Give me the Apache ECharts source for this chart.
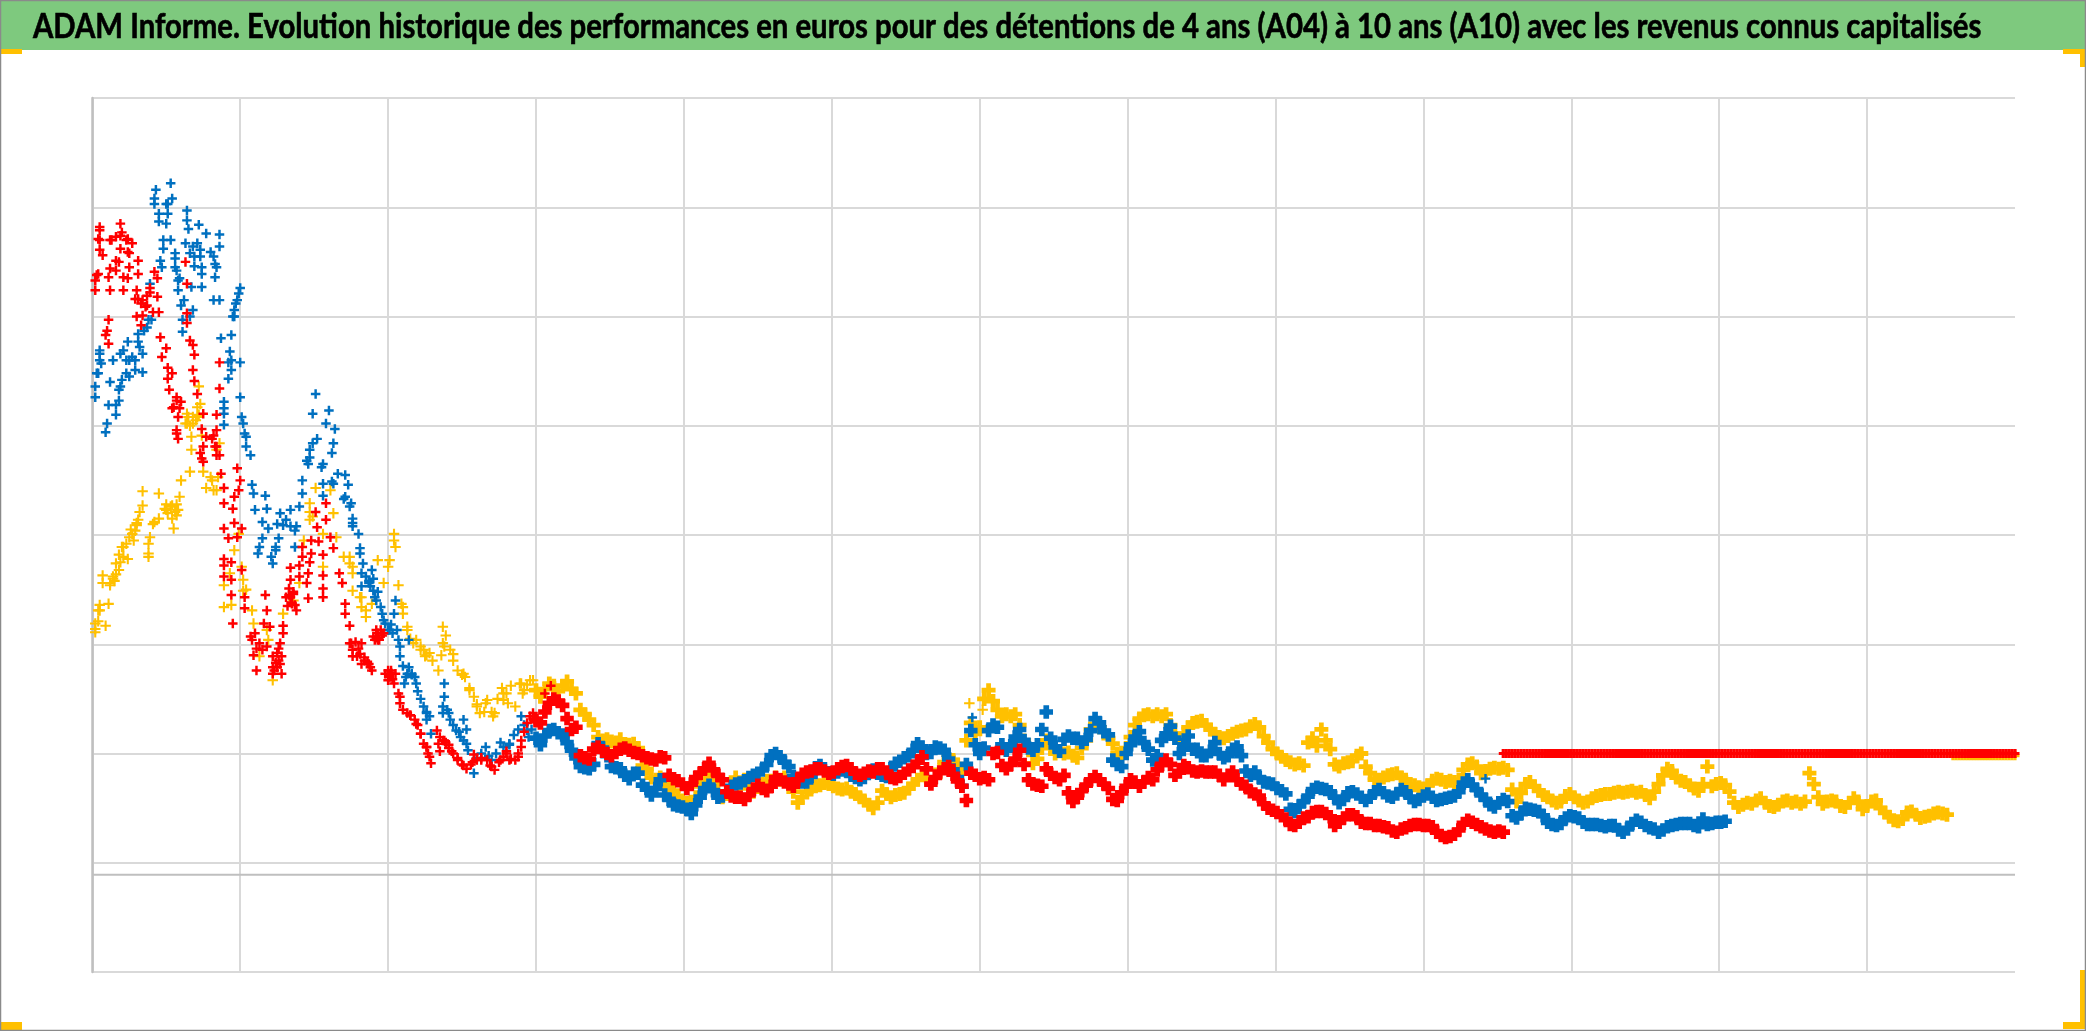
<!DOCTYPE html>
<html><head><meta charset="utf-8">
<style>html,body{margin:0;padding:0;background:#fff}#c{width:2086px;height:1031px}</style>
<script src="https://cdn.jsdelivr.net/npm/echarts@6/dist/echarts.min.js"></script>
</head><body><div id="c"></div>
<script>
const titleText = "ADAM Informe. Evolution historique des performances en euros pour des détentions de 4 ans (A04) à 10 ans (A10) avec les revenus connus capitalisés";

// Early, scattered years: [year, value]
const yellowEarly = [[.02,311],[.02,319],[.04,321],[.05,336],[.05,331],[.11,337],[.09,317],[.07,356],[.07,363],[.12,354],[.14,360],[.18,368],[.19,375],[.18,382],[.24,378],[.2,389],[.23,392],[.27,401],[.29,404],[.31,414],[.32,421],[.34,427],[.34,440],[.38,383],[.38,392],[.39,398],[.42,412],[.45,415],[.45,438],[.49,424],[.53,426],[.56,421],[.55,406],[.58,423],[.59,435],[.6,450],[.66,458],[.75,458],[.77,443],[.81,450],[.84,441],[.85,453],
[.64,511],[.64,502],[.68,508],[.71,517],[.73,520],[.72,536],[.67,490],[.67,478],[.86,484],[.84,478],[.74,491],[.72,510],[.7,505],[.66,500],[.26,405],[.28,395],[.3,409],[.16,364],[.15,358],[.21,380],[.5,428],[.51,420],[.54,415],[.57,428],
[.89,334],[.89,354],[.93,365],[.94,336],[.96,386],[.99,401],[1.01,371],[1.02,359],[1.04,350],[1.08,331],[1.09,319],[1.13,289],[1.18,313],[1.19,304],[1.22,267],[1.29,328],[1.36,340],[1.4,356],[1.43,395],[1.47,429],[1.47,414],[1.51,443],[1.56,401],[1.56,371],[1.61,441],[1.63,420],[1.65,398],[1.7,380],[1.74,374],[1.76,365],[1.76,349],[1.81,343],[1.82,334],[1.85,325],[1.89,337],[1.93,377],[1.97,356],[2.0,371],[2.04,401],[2.05,389],[2.07,354],[2.09,337],[2.1,328],[2.13,313],[2.19,304],[2.24,295],[2.28,292],[2.34,276],[2.37,316],[2.37,301],[2.42,295],[2.47,276],[2.52,270],[2.58,252],[2.62,237],[2.67,249],[2.71,234],[2.77,260],[2.78,249],[2.86,243],[2.9,264],[2.96,267],
[2.15,305],[2.22,298],[2.26,290],[2.3,285],[2.36,290],[2.39,308],[2.44,285],[2.5,272],[2.55,260],[2.6,245],[2.65,238],[2.7,238],[2.74,250],[2.8,255],[2.83,262],[2.92,258],[5.93,246],[6.02,240],
[.25,398],[.21,389],[.16,374],[.14,362],[.12,356],[.3,411],[.5,423],[.54,427],[.57,418],[.41,410],[.38,380],[.04,331],[.02,314],[.8,453],[.82,441],[1.02,349],[1.49,417],[1.47,421],[1.74,380],[1.76,371],[1.82,343],[1.85,331],[2.04,395],[2.01,377],[2.1,334],[2.13,316],[2.17,301],[2.22,295],[2.25,289],[2.38,298],[2.44,291],[2.51,273],[2.55,258],[2.6,243],[2.66,246],[2.72,237],[2.78,255],[2.81,246],[2.91,255],[2.94,263],[2.98,267],[2.89,264],[.65,508],[.68,502],[.71,508],[.63,502]];

const blueEarly = [[.02,526],[.02,536],[.04,548],[.05,566],[.06,557],[.05,560],[.12,540],[.09,494],[.10,502],[.11,519],[.14,560],[.16,510],[.18,523],[.19,536],[.21,569],[.24,577],[.23,560],[.25,545],[.29,560],[.31,584],[.34,566],[.34,549],[.37,590],[.40,597],[.39,630],[.46,651],[.47,645],[.43,716],[.42,703],[.45,694],[.45,687],[.50,703],[.54,708],[.53,722],[.51,694],[.50,685],[.48,670],[.48,662],[.53,670],[.56,658],[.57,642],[.58,633],[.58,624],[.62,615],[.60,610],[.61,586],[.61,597],[.66,600],[.68,606],[.67,627],[.64,697],[.64,688],[.65,680],[.63,667],[.66,658],[.72,684],[.71,667],[.73,655],[.69,646],[.77,676],[.80,659],[.86,675],[.86,664],[.83,648],[.83,636],[.74,639],[.74,627],[.82,615],[.86,615],[.87,580],[.92,558],[.94,583],[.93,568],[.94,551],[.92,543],[1.0,558],[1.0,526],[.89,522],[.89,511],[.89,501],[1.01,508],[1.03,493],[1.04,481],[1.07,473],[.95,600],[.97,612],[.99,621],[1.0,626],[.96,606],[1.47,478],[1.49,511],[1.51,529],[1.52,488],[1.60,514],[1.58,502],[1.64,497],[1.63,484],[1.62,475],
[1.08,446],[1.10,423],[1.09,438],[1.15,412],[1.17,436],[1.18,424],[1.19,406],[1.13,389],[1.12,383],[1.15,397],[1.22,374],[1.24,389],[1.26,397],[1.27,420],[1.29,409],[1.34,423],[1.34,408],[1.37,404],[1.37,389],[1.40,426],[1.42,450],[1.42,438],[1.46,465],[1.56,465],[1.56,447],[1.56,436],[1.62,449],[1.66,456],[1.71,455],[1.71,435],[1.73,446],[1.75,429],[1.76,415],[1.76,408],[1.80,401],[1.81,388],[1.83,374],[1.82,365],[1.82,353],[1.89,368],[1.88,353],[1.92,340],[1.96,328],[2.0,313],[2.04,328],[2.05,340],[2.07,304],[2.08,289],[2.11,264],[2.14,304],[2.14,279],[2.18,270],[2.20,257],[2.24,243],[2.28,234],[2.29,218],[2.38,264],[2.38,252],[2.37,243],[2.42,231],[2.46,221],[2.51,231],[2.51,212],[2.54,203],[2.58,182],[2.66,206],[2.70,194],[2.78,206],[2.85,217],[2.90,234],[2.95,215],
[1.9,360],[1.87,358],[1.85,362],[1.93,348],[1.97,322],[2.02,318],[2.03,310],[2.1,280],[2.12,270],[2.16,272],[2.22,250],[2.26,238],[2.4,240],[2.44,226],[2.48,220],[2.53,222],[2.6,196],[2.63,200],[2.68,198],[2.73,200],[2.76,210],[2.82,208],[2.88,222],[2.92,226],[2.97,222],[5.95,233],[9.42,177],
[.18,533],[.2,542],[.16,519],[.23,548],[.27,563],[.31,577],[.32,572],[.35,587],[.38,597],[.05,569],[.03,548],[.19,566],[.25,560],[.29,551],[.56,653],[.56,645],[.59,635],[.42,708],[.51,703],[.68,664],[.73,661],[.74,645],[.69,655],[.82,655],[.84,645],[.96,600],[.98,615],[.94,560],[1.02,502],[1.04,490],[.89,516],
[1.45,468],[1.47,471],[1.49,484],[1.55,462],[1.63,447],[1.70,433],[1.74,426],[1.76,411],[1.81,383],[1.87,356],[1.9,349],[1.91,343],[1.95,334],[1.98,319],[2.01,313],[2.06,313],[2.08,298],[2.13,273],[2.16,273],[2.19,264],[2.26,237],[2.26,231],[2.37,237],[2.41,237],[2.49,215],[2.53,209],[1.25,410],[1.31,414],[1.38,408],[1.24,386],[1.21,380],[2.82,209],[2.94,221]];

const redEarly = [[.02,624],[.02,633],[.04,639],[.05,679],[.05,670],[.05,661],[.07,656],[.12,624],[.11,636],[.13,670],[.19,685],[.19,674],[.19,662],[.18,650],[.16,642],[.21,624],[.24,671],[.27,667],[.25,658],[.25,645],[.31,651],[.31,639],[.24,635],[.42,641],[.44,635],[.39,626],[.30,624],[.29,616],[.33,612],[.37,610],[.44,618],[.41,604],[.45,604],[.30,600],[.34,601],[.33,592],[.11,597],[.10,587],[.09,583],[.11,575],[.63,650],[.64,630],[.64,603],[.64,594],[.46,581],[.50,571],[.47,563],[.66,578],[.68,574],[.69,565],[.68,551],[.51,553],[.54,548],[.51,543],[.52,533],[.69,541],[.71,529],[.86,558],[.86,534],[.57,526],[.60,522],[.54,516],[.58,508],[.75,511],[.84,510],[.74,497],[.57,493],[.58,488],[.82,491],[.77,490],[.84,496],[.75,481],[.83,481],[.86,473],[.74,470],
[.75,467],[.84,473],[.87,456],[.89,443],[.98,461],[1.0,450],[.99,441],[.96,435],[.89,429],[.95,424],[.96,411],[.89,406],[.92,397],[1.01,406],[.98,398],[.89,378],[.89,372],[.94,375],[.89,362],[.94,359],[1.01,368],[.94,345],[.95,319],[1.03,343],[1.03,333],[1.17,345],[1.18,331],[1.16,319],[1.20,316],[1.29,317],[1.29,310],[1.07,307],[1.11,296],[1.09,290],[1.11,276],[1.18,298],[1.27,301],[1.25,292],[1.25,279],[1.22,273],[1.28,273],[1.34,343],[1.38,331],[1.34,359],[1.34,370],[1.40,372],[1.40,362],[1.46,365],[1.45,356],[1.46,342],[1.42,389],[1.42,380],[1.48,395],[1.48,383],[1.47,375],[1.53,394],[1.51,421],[1.52,407],[1.58,429],[1.58,414],[1.61,398],[1.63,388],[1.56,382],[1.56,363],[1.56,351],[1.56,343],[1.67,365],[1.69,356],[1.71,337],[1.71,328],[1.74,317],[1.75,301],[1.82,301],[1.76,289],[1.82,282],[1.88,279],[1.91,304],[1.95,313],[1.96,308],[2.01,272],[2.04,264],[2.08,252],[2.13,237],[2.18,231],[2.24,209],[2.28,197],[2.29,191],[2.37,212],[2.33,221],[2.44,200],[2.53,186],[2.60,194],[2.67,194],[2.72,185],[2.78,197],[2.86,194],[2.90,212],[2.96,234],
[2.01,270],[2.02,274],[2.0,276],[2.03,268],[1.93,310],[1.92,306],[1.94,304],[1.24,283],[1.26,285],[1.23,276],[1.33,345],[1.35,338],[1.32,335],[1.36,348],[1.8,296],[1.78,302],[1.84,288],[1.86,284],[2.15,235],[2.2,226],[2.22,218],[2.26,206],[2.35,215],[2.39,210],[2.41,205],[2.47,196],[2.5,190],[2.56,190],[2.63,196],[2.7,188],[2.75,192],[2.8,200],[2.83,195],[2.88,200],[2.92,220],[2.98,232],[3.1,262],[3.06,255],
[1.22,289],[1.27,282],[1.28,289],[1.22,279],[1.26,296],[1.31,343],[1.36,346],[1.35,337],[1.33,351],[1.37,336],[1.08,304],[1.13,301],[1.10,310],[1.15,295],[1.74,301],[1.76,295],[1.79,289],[1.81,291],[1.84,285],[1.87,282],[1.89,276],[1.90,307],[1.92,313],[1.97,310],[1.93,304],[1.98,273],[2.05,273],[2.0,267],[2.02,276],[2.07,255],[2.08,246],[2.10,240],[2.15,235],[2.19,227],[2.22,218],[2.26,206],[2.27,200],[2.34,209],[2.38,212],[2.41,208],[2.35,202],[2.43,202],[2.47,194],[2.51,189],[2.57,192],[2.58,199],[2.63,194],[2.69,189],[2.76,194],[2.8,202],[2.82,194],[2.88,197],[2.9,206],[2.94,228],[2.98,237],
[.16,673],[.12,670],[.2,677],[.23,670],[.24,659],[.16,651],[.21,636],[.12,644],[.03,638],[.05,682],[.04,671],[.37,619],[.34,615],[.39,622],[.31,616],[.36,609],[.57,523],[.55,517],[.59,516],[.57,496],[.73,475],[.81,488],[.84,481]];

// Regular readings, from year 3 onward
const bandStartYear = 3, bandStepYears = 0.03;
const yellowBand = [
258,252,259,264,262,257,262,266,259,255, 240,236,231,226,215,212,213,211,210,213,
206,208,209,205,189,186,178,176,178,170, 168,166,160,157,155,153,160,170,178,180,
172,165,160,163,170,178,172,176,168,165, 170,172,175,175,178,176,178,172,165,155,
160,165,167,170,171,173,172,170,168,167, 168,165,163,160,157,153,150,155,166,163,
160,162,163,164,168,172,176,180,177,174, 178,185,192,197,194,190,186,212,228,218,
224,250,258,248,240,234,236,234,236,226, 212,203,191,195,205,212,206,200,202,200,
201,198,196,205,212,222,227,224,220,214, 209,200,197,205,215,226,232,235,236,234,
236,234,236,226,216,214,218,224,228,229, 230,226,222,218,215,214,216,218,220,221,
222,225,227,224,216,210,204,200,197,194, 192,190,191,189,210,214,207,222,212,204,
190,188,191,192,193,198,200,188,182,176, 176,178,180,181,182,178,176,172,171,169,
168,171,175,177,176,174,175,174,176,185, 190,191,188,182,184,186,187,186,187,185,
167,156,164,172,174,170,166,162,160,157, 155,156,161,163,160,157,155,156,159,161,
162,163,163,164,165,164,165,166,164,165, 162,159,165,172,180,186,184,178,175,174,
171,168,166,172,188,170,172,173,171,165, 155,151,153,155,154,157,159,155,152,151,
153,156,157,155,156,154,156,182,172,160, 154,156,157,156,152,151,155,159,156,149,
152,156,157,150,146,142,139,138,140,146, 147,144,141,142,143,145,146,145,144];
const blueBand = [
214,208,216,221,222,219,217,210,203,196, 188,187,186,190,209,205,198,188,187,186,
180,177,182,182,171,168,162,168,176,162, 158,153,152,151,149,145,153,160,168,171,
166,160,161,165,170,172,173,175,178,180, 182,185,190,198,200,197,192,188,179,176,
174,174,179,187,189,186,182,181,183,185, 184,180,178,176,178,183,185,182,180,179,
186,191,193,196,198,203,209,206,200,201, 206,205,203,195,185,178,170,190,221,208,
200,205,221,226,224,208,203,207,215,222, 212,205,203,208,222,238,214,206,202,213,
216,214,214,210,213,221,232,228,220,217, 194,190,188,200,208,215,220,210,204,194,
198,212,218,225,214,200,208,216,204,204, 198,198,202,210,200,196,198,204,206,198,
184,180,183,178,174,173,172,168,166,163, 149,147,152,156,161,167,169,168,167,165,
160,155,158,164,165,163,160,157,160,165, 167,164,161,160,163,167,165,160,156,158,
161,163,160,157,158,159,160,161,165,173, 176,171,167,162,158,153,151,155,158,156,
143,141,145,150,149,148,147,143,137,135, 134,136,141,143,142,141,137,135,135,135,
134,133,134,134,130,128,131,136,139,137, 134,132,131,128,130,133,134,135,136,136,
136,134,133,140,135,136,137,137,138];
const redBand = [
230,228,238,246,250,248,244,232,222,224, 198,196,195,204,206,202,200,198,201,204,
205,203,201,200,198,196,195,194,197,196, 180,177,175,172,168,172,178,182,186,191,
185,180,176,165,161,160,160,158,162,167, 171,168,166,170,178,176,174,172,170,176,
181,183,184,186,186,184,182,183,186,188, 189,186,182,180,182,184,183,186,186,183,
178,177,179,182,185,188,192,197,186,172, 178,183,186,188,181,175,170,157,182,180,
177,178,176,200,201,189,186,190,195,203, 190,176,172,171,170,186,181,178,176,180,
164,156,160,166,171,176,179,176,172,168, 158,157,164,170,176,174,170,174,178,176,
185,190,194,190,180,183,189,187,184,183, 184,183,183,183,180,176,180,183,176,172,
170,165,163,161,154,150,148,146,143,140, 135,134,137,141,142,146,147,147,145,142,
134,137,141,144,144,142,137,136,136,134, 134,133,132,129,128,131,132,134,135,135,
134,134,133,128,125,123,124,126,130,136, 139,137,135,133,131,129,128,129,128];

// Constant tail once the capital is repaid
const flatStepYears = 0.02;
const redFlatStartYear = 9.54;
const redFlat = [
200,200,200,200,200,200,200,200,200,200,200,200,200,200,200,200,200,200,200,200,200,200,200,200,200,
200,200,200,200,200,200,200,200,200,200,200,200,200,200,200,200,200,200,200,200,200,200,200,200,200,
200,200,200,200,200,200,200,200,200,200,200,200,200,200,200,200,200,200,200,200,200,200,200,200,200,
200,200,200,200,200,200,200,200,200,200,200,200,200,200,200,200,200,200,200,200,200,200,200,200,200,
200,200,200,200,200,200,200,200,200,200,200,200,200,200,200,200,200,200,200,200,200,200,200,200,200,
200,200,200,200,200,200,200,200,200,200,200,200,200,200,200,200,200,200,200,200,200,200,200,200,200,
200,200,200,200,200,200,200,200,200,200,200,200,200,200,200,200,200,200,200,200,200,200,200,200];
const yellowFlatStartYear = 12.58;
const yellowFlat = [198,198,198,198,198,198,198,198,198,198,198,198,198,198,198,198,198,198,198,198,198,198];

const baselineYears = [0, 13];
const baselineValues = [89, 89];

const fromBand = (vals, start, step) => vals.map((v, i) => [start + i * step, v]);

const plus = arm => { const a = (10 - arm) / 2, b = (10 + arm) / 2;
  return `path://M${a} 0H${b}V${a}H10V${b}H${b}V10H${a}V${b}H0V${a}H${a}Z`; };
const scatter = (name, data, color, arm, size, z) => ({
  name, type: 'scatter', data, symbol: plus(arm), symbolSize: size, clip: false, z,
  itemStyle: { color, opacity: 1 }, progressive: 0, silent: true
});

const chart = echarts.init(document.getElementById('c'), null, { renderer: 'canvas', width: 2086, height: 1031 });
const cornerColor = '#FFC000', frameColor = '#8A8A8A';
const A10 = '#FFC000', A07 = '#0070C0', A04 = '#FF0000';
chart.setOption({
  animation: false,
  backgroundColor: '#fff',
  grid: { left: 92.3, right: 71, top: 98, bottom: 59, containLabel: false },
  xAxis: {
    type: 'value', min: 0, max: 13, interval: 1,
    axisLabel: { show: false }, axisTick: { show: false }, axisLine: { show: false },
    splitLine: { show: true, showMaxLine: false, lineStyle: { color: '#D9D9D9', width: 2 } }
  },
  yAxis: {
    type: 'value', min: 0, max: 800, interval: 100,
    axisLabel: { show: false }, axisTick: { show: false },
    axisLine: { show: true, lineStyle: { color: '#BFBFBF', width: 2.5 } },
    splitLine: { show: true, lineStyle: { color: '#D9D9D9', width: 2 } }
  },
  series: [
    { name: 'axe', type: 'line', data: baselineYears.map((x, i) => [x, baselineValues[i]]), symbol: 'none',
      lineStyle: { color: '#BFBFBF', width: 2 }, z: 1, silent: true },
    scatter('A10', yellowEarly, A10, 2.0, 10.5, 2),
    scatter('A10 suite', fromBand(yellowBand, bandStartYear, bandStepYears), A10, 3.4, 14, 2),
    scatter('A10 fin', fromBand(yellowFlat, yellowFlatStartYear, flatStepYears), A10, 3.5, 9, 2),
    scatter('A07', blueEarly, A07, 2.6, 9.5, 3),
    scatter('A07 suite', fromBand(blueBand, bandStartYear, bandStepYears), A07, 4.2, 13.5, 3),
    scatter('A04', redEarly, A04, 2.6, 9.5, 4),
    scatter('A04 suite', fromBand(redBand, bandStartYear, bandStepYears), A04, 4.2, 13.5, 4),
    scatter('A04 fin', fromBand(redFlat, redFlatStartYear, flatStepYears), A04, 3.6, 9, 4)
  ],
  graphic: [
    { type: 'rect', shape: { x: 0, y: 0, width: 2086, height: 50 }, style: { fill: '#7EC97E' } },
    { type: 'text', x: 33, y: 27, scaleX: 0.875, style: { text: titleText, fontFamily: 'Lato', fontWeight: 'bold', fontSize: 33.5, fill: '#000', stroke: '#000', lineWidth: 0.6, verticalAlign: 'middle' } },
    { type: 'rect', shape: { x: 1, y: 49, width: 21, height: 5 }, style: { fill: cornerColor } },
    { type: 'rect', shape: { x: 2063, y: 49, width: 22, height: 5 }, style: { fill: cornerColor } },
    { type: 'rect', shape: { x: 2080, y: 49, width: 5, height: 18 }, style: { fill: cornerColor } },
    { type: 'rect', shape: { x: 1, y: 1022, width: 21, height: 8 }, style: { fill: cornerColor } },
    { type: 'rect', shape: { x: 2063, y: 1022, width: 22, height: 7 }, style: { fill: cornerColor } },
    { type: 'rect', shape: { x: 2080, y: 970, width: 5, height: 59 }, style: { fill: cornerColor } },
    { type: 'rect', shape: { x: 0.5, y: 0.5, width: 2085, height: 1030 }, style: { fill: 'none', stroke: frameColor, lineWidth: 1.5 } }
  ]
});
</script></body></html>
